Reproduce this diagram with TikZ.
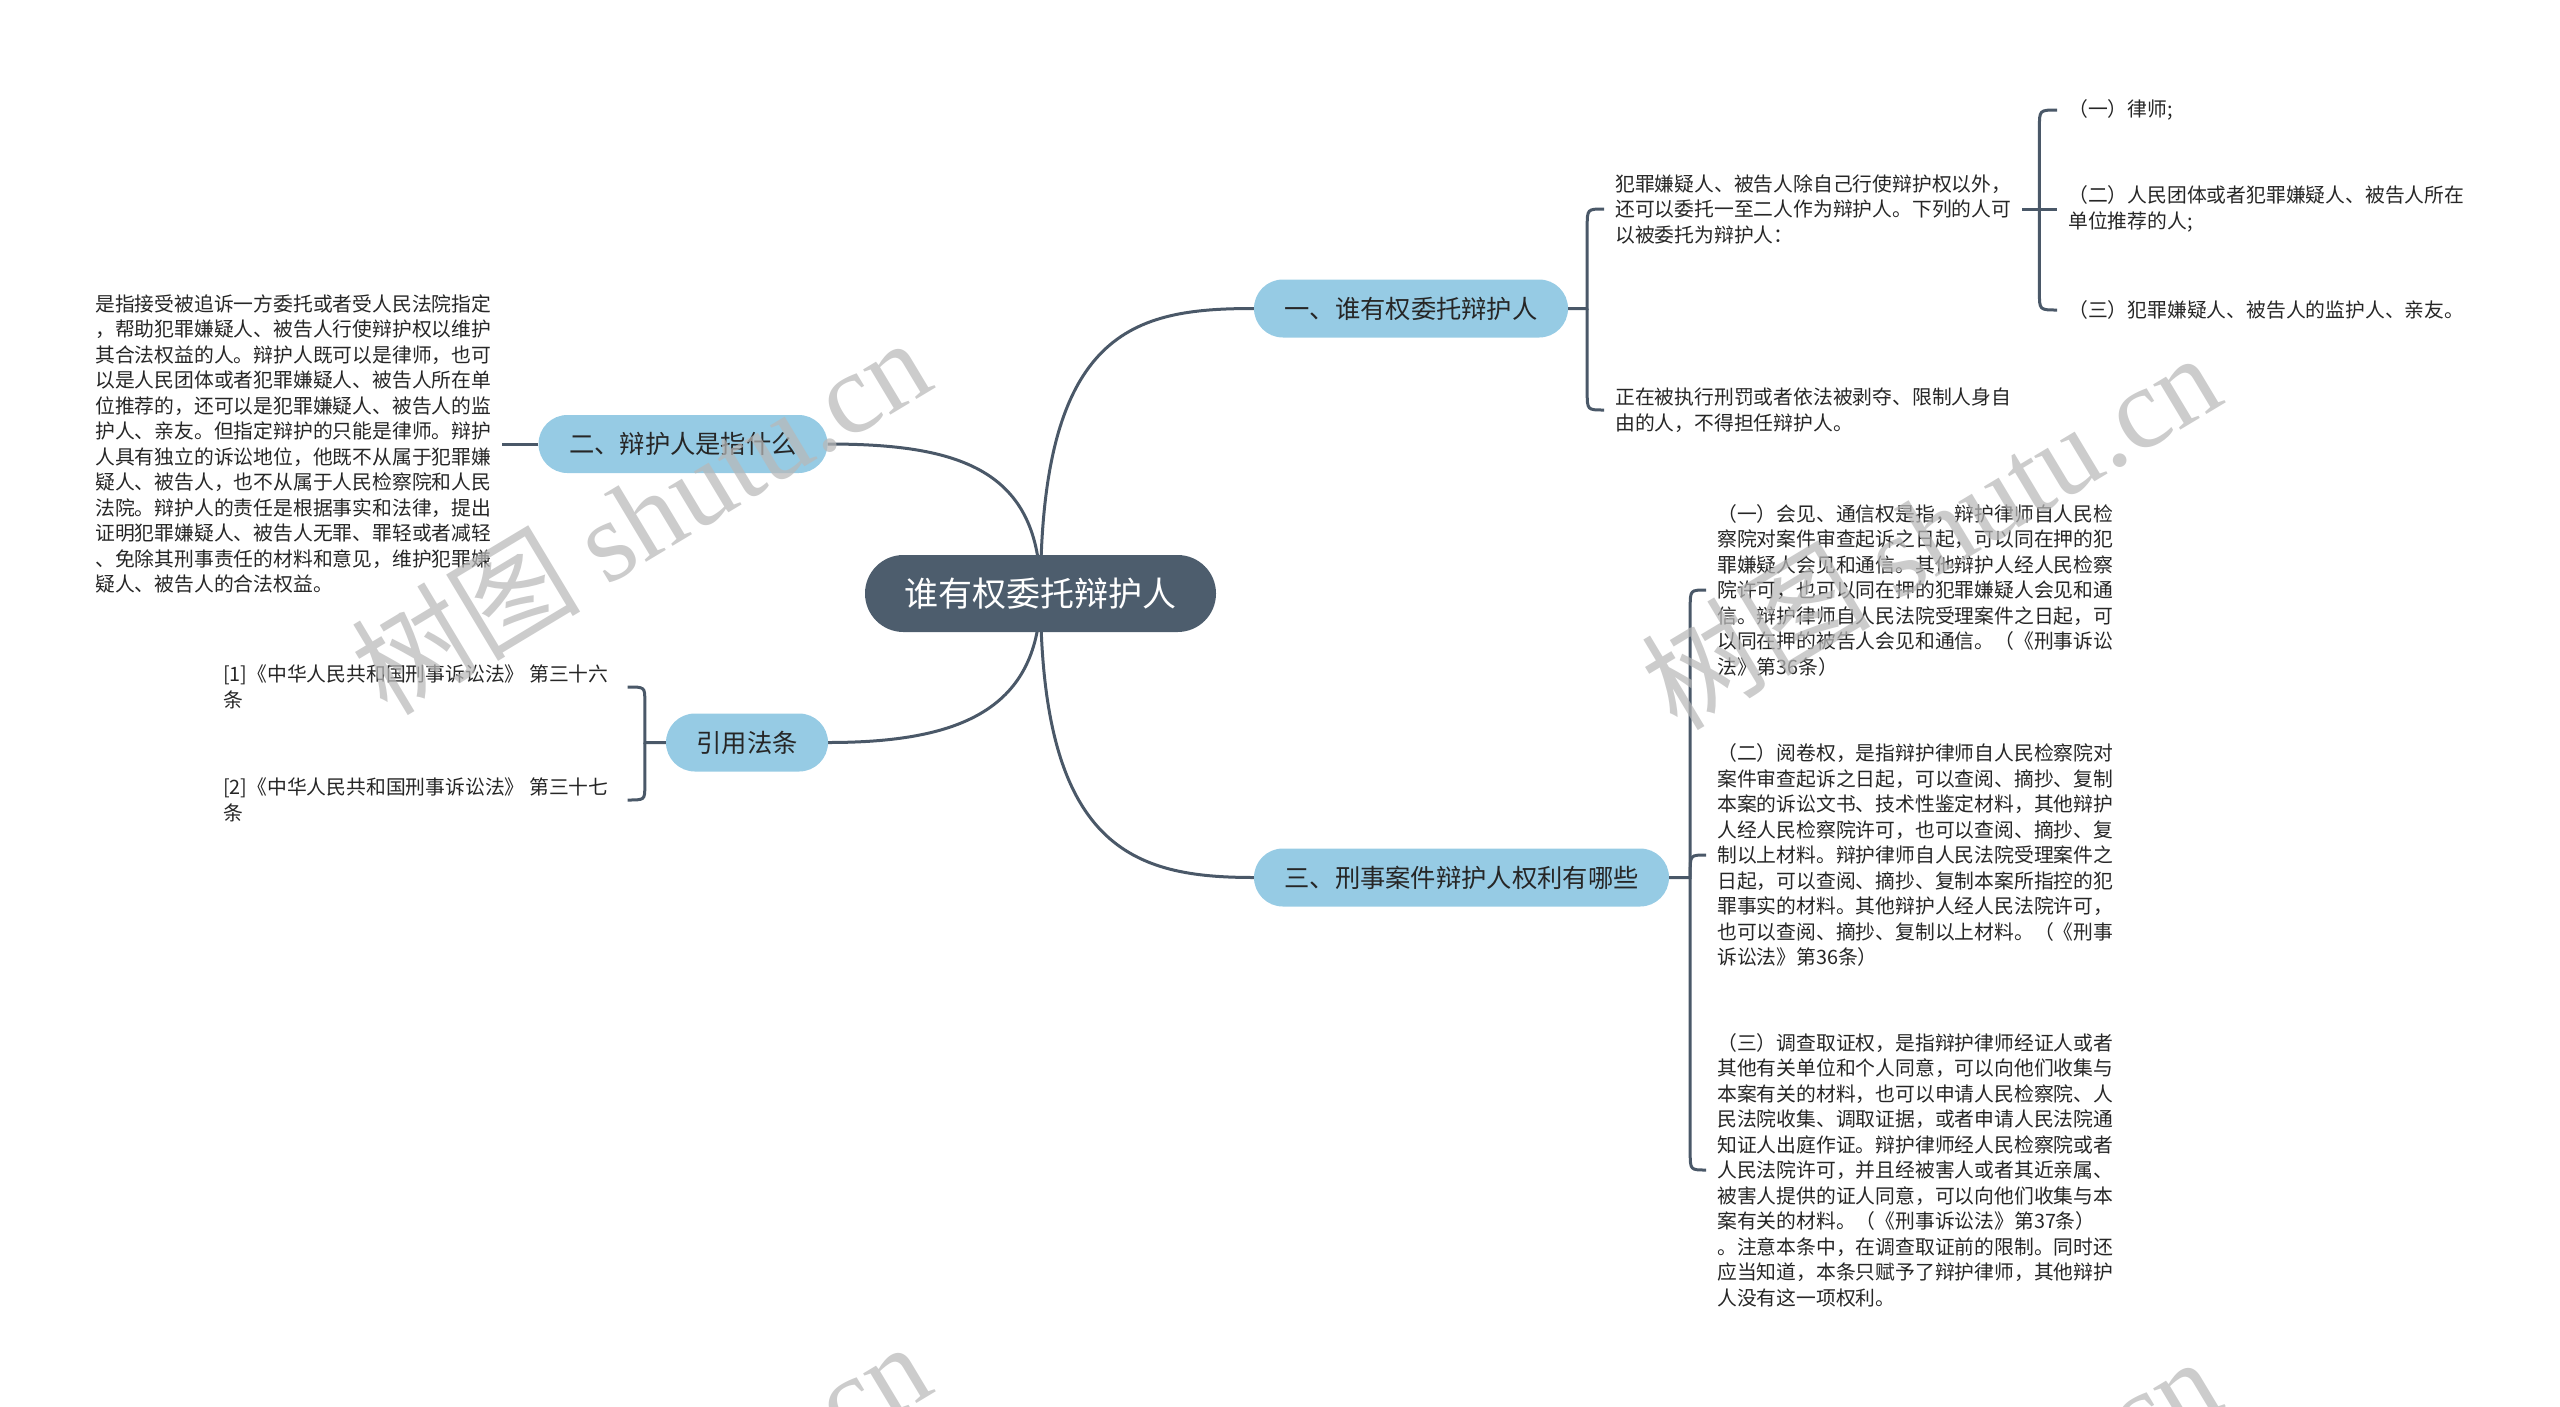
\documentclass[tikz,border=0pt]{standalone}
\usepackage{fontspec}
\setmainfont{Noto Sans CJK SC}
\newfontfamily\wmserif{Liberation Serif}
\usetikzlibrary{calc}
\definecolor{rootc}{HTML}{4D5D6D}
\definecolor{branchc}{HTML}{96CBE4}
\definecolor{linec}{HTML}{4A5868}
\definecolor{txtc}{HTML}{262626}
\pgfdeclarelayer{bg}
\pgfsetlayers{bg,main}
\begin{document}
\begin{tikzpicture}[x=1pt,y=-1pt,
  rootbox/.style={fill=rootc, rounded corners=38.4pt, minimum width=351pt, minimum height=77pt, inner sep=0pt, text=white, font=\fontsize{34}{40}\selectfont},
  branchbox/.style={fill=branchc, rounded corners=28.9pt, minimum height=58pt, inner sep=0pt, text=txtc, font=\fontsize{25.3}{30}\selectfont},
  leaf/.style={inner xsep=11pt, inner ysep=0pt, align=left, text=txtc, font=\fontsize{19.8}{25.5}\selectfont, anchor=west},
  conn/.style={draw=linec, line width=3pt},
  wm/.style={rotate=31, text=black!28, opacity=0.72, font=\fontsize{115}{115}\selectfont}]
\useasboundingbox (0,0) rectangle (2560,1406);

% central and main topics
\node[rootbox] (root) at (1040.5,593.5) {谁有权委托辩护人};
\node[branchbox, minimum width=314pt] (b1) at (1411,308.5) {一、谁有权委托辩护人};
\node[branchbox, minimum width=289pt] (b2) at (683,444) {二、辩护人是指什么};
\node[branchbox, minimum width=162pt] (b4) at (747,742.5) {引用法条};
\node[branchbox, minimum width=415pt] (b3) at (1461.5,877.5) {三、刑事案件辩护人权利有哪些};

% left text of branch 2
\node[leaf] (t2) at (84,444) {是指接受被追诉一方委托或者受人民法院指定\\%
，帮助犯罪嫌疑人、被告人行使辩护权以维护\\%
其合法权益的人。辩护人既可以是律师，也可\\%
以是人民团体或者犯罪嫌疑人、被告人所在单\\%
位推荐的，还可以是犯罪嫌疑人、被告人的监\\%
护人、亲友。但指定辩护的只能是律师。辩护\\%
人具有独立的诉讼地位，他既不从属于犯罪嫌\\%
疑人、被告人，也不从属于人民检察院和人民\\%
法院。辩护人的责任是根据事实和法律，提出\\%
证明犯罪嫌疑人、被告人无罪、罪轻或者减轻\\%
、免除其刑事责任的材料和意见，维护犯罪嫌\\%
疑人、被告人的合法权益。};

% references
\node[leaf] (c41) at (212,687) {[1]《中华人民共和国刑事诉讼法》 第三十六\\%
条};
\node[leaf] (c42) at (212,800) {[2]《中华人民共和国刑事诉讼法》 第三十七\\%
条};

% branch 1 children
\node[leaf] (c11) at (1604,209) {犯罪嫌疑人、被告人除自己行使辩护权以外，\\%
还可以委托一至二人作为辩护人。下列的人可\\%
以被委托为辩护人：};
\node[leaf] (c12) at (1604,410) {正在被执行刑罚或者依法被剥夺、限制人身自\\%
由的人，不得担任辩护人。};
\node[leaf] (g1) at (2057,110) {（一）律师;};
\node[leaf] (g2) at (2057,209) {（二）人民团体或者犯罪嫌疑人、被告人所在\\%
单位推荐的人;};
\node[leaf] (g3) at (2057,310) {（三）犯罪嫌疑人、被告人的监护人、亲友。};

% branch 3 children
\node[leaf] (c31) at (1706,590) {（一）会见、通信权是指，辩护律师自人民检\\%
察院对案件审查起诉之日起，可以同在押的犯\\%
罪嫌疑人会见和通信。其他辩护人经人民检察\\%
院许可，也可以同在押的犯罪嫌疑人会见和通\\%
信。辩护律师自人民法院受理案件之日起，可\\%
以同在押的被告人会见和通信。（《刑事诉讼\\%
法》第36条）};
\node[leaf] (c32) at (1706,855) {（二）阅卷权，是指辩护律师自人民检察院对\\%
案件审查起诉之日起，可以查阅、摘抄、复制\\%
本案的诉讼文书、技术性鉴定材料，其他辩护\\%
人经人民检察院许可，也可以查阅、摘抄、复\\%
制以上材料。辩护律师自人民法院受理案件之\\%
日起，可以查阅、摘抄、复制本案所指控的犯\\%
罪事实的材料。其他辩护人经人民法院许可，\\%
也可以查阅、摘抄、复制以上材料。（《刑事\\%
诉讼法》第36条）};
\node[leaf] (c33) at (1706,1170) {（三）调查取证权，是指辩护律师经证人或者\\%
其他有关单位和个人同意，可以向他们收集与\\%
本案有关的材料，也可以申请人民检察院、人\\%
民法院收集、调取证据，或者申请人民法院通\\%
知证人出庭作证。辩护律师经人民检察院或者\\%
人民法院许可，并且经被害人或者其近亲属、\\%
被害人提供的证人同意，可以向他们收集与本\\%
案有关的材料。（《刑事诉讼法》第37条）\\%
。注意本条中，在调查取证前的限制。同时还\\%
应当知道，本条只赋予了辩护律师，其他辩护\\%
人没有这一项权利。};

% junctions
\coordinate (j1) at ($(b1.east)+(19,0)$);
\coordinate (j11) at ($(c11.east)+(17,0)$);
\coordinate (j3) at ($(b3.east)+(21,0)$);
\coordinate (j4) at ($(b4.west)+(-21,0)$);

\begin{pgfonlayer}{bg}
% root to main topics
\draw[conn] (root.center) .. controls +(0,-264) and +(-120,0) .. (b1.west);
\draw[conn] (root.center) .. controls +(0,-124) and +(132,0) .. (b2.east);
\draw[conn] (root.center) .. controls +(0,116) and +(132,0) .. (b4.east);
\draw[conn] (root.center) .. controls +(0,256) and +(-120,0) .. (b3.west);
\end{pgfonlayer}

% branch 2 to its text
\draw[conn] (b2.west) -- (t2.east);

% references bracket
\draw[conn] (b4.west) -- (j4) -- ($(j4 |- c41.east)+(0,14)$) .. controls (j4 |- c41.east) .. ($(c41.east)+(8,0)$);
\draw[conn] (j4) -- ($(j4 |- c42.east)+(0,-14)$) .. controls (j4 |- c42.east) .. ($(c42.east)+(8,0)$);

% branch 1 bracket
\draw[conn] (b1.east) -- (j1) -- ($(j1 |- c11.west)+(0,18)$) .. controls (j1 |- c11.west) .. (c11.west);
\draw[conn] (j1) -- ($(j1 |- c12.west)+(0,-18)$) .. controls (j1 |- c12.west) .. (c12.west);

% sub-bracket
\draw[conn] (c11.east) -- (g2.west);
\draw[conn] (j11) -- ($(j11 |- g1.west)+(0,18)$) .. controls (j11 |- g1.west) .. (g1.west);
\draw[conn] (j11) -- ($(j11 |- g3.west)+(0,-18)$) .. controls (j11 |- g3.west) .. (g3.west);

% branch 3 bracket
\draw[conn] (b3.east) -- (j3) -- ($(j3 |- c31.west)+(0,18)$) .. controls (j3 |- c31.west) .. (c31.west);
\draw[conn] (j3) -- ($(j3 |- c32.west)+(0,18)$) .. controls (j3 |- c32.west) .. (c32.west);
\draw[conn] (j3) -- ($(j3 |- c33.west)+(0,-18)$) .. controls (j3 |- c33.west) .. (c33.west);

% watermarks
\begin{scope}
\clip (0,0) rectangle (2560,1406);
\node[wm] (wm1) at (640,515) {树图 {\wmserif shutu.cn}};
\node[wm] (wm2) at (1930,530) {树图 {\wmserif shutu.cn}};
\node[wm] (wm3) at (640,1519) {树图 {\wmserif shutu.cn}};
\node[wm] (wm4) at (1930,1534) {树图 {\wmserif shutu.cn}};
\end{scope}
\end{tikzpicture}
\end{document}
